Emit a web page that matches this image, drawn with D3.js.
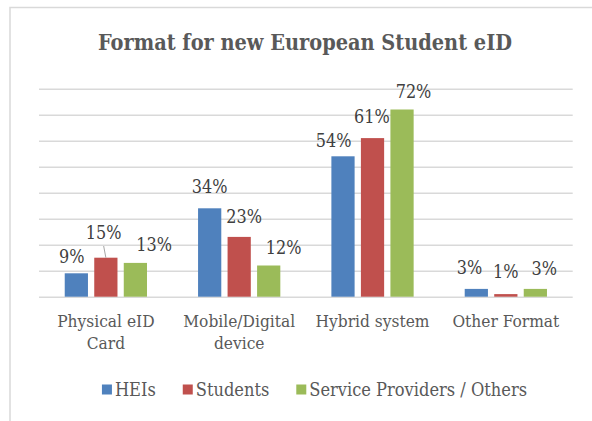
<!DOCTYPE html>
<html><head><meta charset="utf-8">
<script src="https://cdn.jsdelivr.net/npm/d3@7"></script>
<style>body{margin:0;background:#fff;overflow:hidden} svg{display:block} text{font-stretch:condensed}</style>
</head><body>
<script>
// ---- data ----
const chartTitle = "Format for new European Student eID";
const categories = ["Physical eID Card", "Mobile/Digital device", "Hybrid system", "Other Format"];
const categoryLines = [["Physical eID", "Card"], ["Mobile/Digital", "device"], ["Hybrid system"], ["Other Format"]];
const seriesNames = ["HEIs", "Students", "Service Providers / Others"];
const heis = [9, 34, 54, 3];
const students = [15, 23, 61, 1];
const others = [13, 12, 72, 3];
const yTicks = [0, 10, 20, 30, 40, 50, 60, 70, 80];

// ---- layout / style (not data) ----
const W = 592, H = 421;
const colors = ["#4f81bd", "#c0504d", "#9bbb59"];
const FONT = "'DejaVu Serif Condensed', 'DejaVu Serif', serif";
// manual label nudges [dx, dy] relative to (bar centre, bar top), per series per category
const labelNudge = [
  [[-4.6, -10.6], [0, -15], [-9.3, -9], [-6.8, -14.6]],
  [[-2.2, -18.7], [5, -13.6], [-0.7, -15.4], [0, -15.8]],
  [[18.8, -11.9], [15, -11.8], [11.5, -11.2], [9, -13.9]]
];

const series = [heis, students, others];

const svg = d3.select("body").append("svg").attr("width", W).attr("height", H);

// frame
svg.append("rect").attr("x", 10).attr("y", 7.5).attr("width", 700).attr("height", 500)
  .attr("fill", "#fff").attr("stroke", "#d9d9d9").attr("stroke-width", 1.5);

const x0 = d3.scaleBand().domain(categories).range([39, 572.7]).paddingInner(0.383).paddingOuter(0.193);
const x1 = d3.scaleBand().domain(seriesNames).range([0, x0.bandwidth()]).paddingInner(0.213);
const y = d3.scaleLinear().domain([0, 80]).range([296.7, 88.7]);

function fit(sel, target) {
  const w = sel.node().getComputedTextLength();
  const fs = parseFloat(sel.attr("font-size"));
  return fs * target / w;
}

// gridlines via axis
const yAxis = d3.axisLeft(y).tickValues(yTicks).tickSize(-(572.7 - 39)).tickFormat("");
const gy = svg.append("g").attr("transform", "translate(39,0)").call(yAxis);
gy.select(".domain").remove();
gy.selectAll(".tick line").attr("stroke", "#d9d9d9").attr("stroke-width", 1.6);

// title
const t = svg.append("text").attr("x", 305).attr("y", 49.5).attr("text-anchor", "middle")
  .attr("font-family", FONT).attr("font-weight", "bold").attr("font-size", 20)
  .attr("fill", "#595959").text(chartTitle);
t.attr("font-size", fit(t, 414));

// bars
const groups = svg.append("g").selectAll("g").data(categories).join("g")
  .attr("transform", d => `translate(${x0(d)},0)`);
groups.selectAll("rect").data((c, ci) => seriesNames.map((s, si) => ({ s, si, ci, v: series[si][ci] })))
  .join("rect")
  .attr("x", d => x1(d.s)).attr("width", x1.bandwidth())
  .attr("y", d => y(d.v)).attr("height", d => y(0) - y(d.v))
  .attr("fill", d => colors[d.si]);

// data labels
const probe = svg.append("text").attr("font-family", FONT).attr("font-size", 16).text("72%");
const labelSize = fit(probe, 35.7);
probe.remove();

const labelData = [];
categories.forEach((c, ci) => seriesNames.forEach((s, si) => {
  const v = series[si][ci];
  const cx = x0(c) + x1(s) + x1.bandwidth() / 2;
  const [dx, dy] = labelNudge[si][ci];
  labelData.push({ v, cx, top: y(v), lx: cx + dx, ly: y(v) + dy, si, ci });
}));
svg.append("g").selectAll("text").data(labelData).join("text")
  .attr("x", d => d.lx).attr("y", d => d.ly).attr("text-anchor", "middle")
  .attr("font-family", FONT).attr("font-size", labelSize).attr("fill", "#404040")
  .text(d => d3.format(".0f")(d.v) + "%");

// leader line for the displaced Students / Physical label
const lead = labelData.find(d => d.si === 1 && d.ci === 0);
svg.append("line").attr("x1", lead.lx).attr("y1", lead.ly + 7).attr("x2", lead.cx).attr("y2", lead.top)
  .attr("stroke", "#a6a6a6").attr("stroke-width", 1);

// category labels
const probe2 = svg.append("text").attr("font-family", FONT).attr("font-size", 15).text("Hybrid system");
const catSize = fit(probe2, 114);
probe2.remove();
const cl = svg.append("g").selectAll("text").data(categories).join("text")
  .attr("x", d => x0(d) + x0.bandwidth() / 2).attr("y", 327.3).attr("text-anchor", "middle")
  .attr("font-family", FONT).attr("font-size", catSize).attr("fill", "#595959");
cl.each(function (d, i) {
  d3.select(this).selectAll("tspan").data(categoryLines[i]).join("tspan")
    .attr("x", x0(d) + x0.bandwidth() / 2).attr("dy", (l, j) => j === 0 ? 0 : 22).text(l => l);
});

// legend
const probe3 = svg.append("text").attr("font-family", FONT).attr("font-size", 15).text("Service Providers / Others");
const legSize = fit(probe3, 218);
probe3.remove();
const legend = svg.append("g");
let lx = 0;
seriesNames.forEach((s, i) => {
  const g = legend.append("g");
  g.append("rect").attr("x", 0).attr("y", -11).attr("width", 10).attr("height", 10).attr("fill", colors[i]);
  const tx = g.append("text").attr("x", 13).attr("y", 0).attr("font-family", FONT)
    .attr("font-size", legSize).attr("fill", "#595959").text(s);
  const w = 13 + tx.node().getComputedTextLength();
  g.attr("transform", `translate(${lx},0)`);
  lx += w + 27;
});
const totalW = lx - 27;
legend.attr("transform", `translate(${314.5 - totalW / 2},395.5)`);
</script>
</body></html>
